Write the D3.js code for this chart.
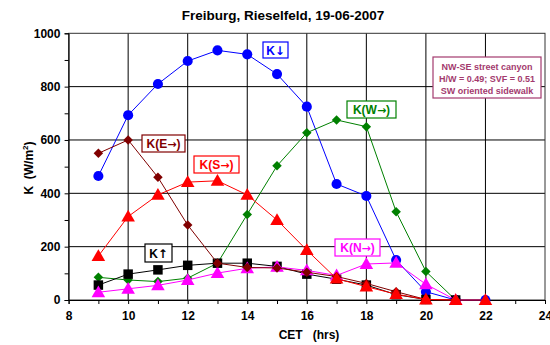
<!DOCTYPE html>
<html><head><meta charset="utf-8">
<script src="https://cdn.jsdelivr.net/npm/d3@7"></script>
<style>body{margin:0;background:#fff}svg{display:block}text{font-family:Arial,"Liberation Sans",sans-serif}</style>
</head><body>
<svg id="c" width="550" height="345"></svg>
<script>
const hours = [9,10,11,12,13,14,15,16,17,18,19,20,21,22];
const kDown = [465,693,810,896,936,921,847,725,435,390,150,31,0,0];
const kW    = [85,75,69,82,138,321,503,627,675,650,331,107,0,null];
const kUp   = [56,97,113,130,138,138,126,97,78,56,20,2,0,null];
const kN    = [29,42,55,75,101,119,124,111,92,135,139,59,0,null];
const kE    = [550,600,460,281,138,122,120,104,88,62,31,2,0,null];
const kS    = [165,313,394,442,447,394,300,187,80,50,22,2,0,0];
const xTicks = [8,10,12,14,16,18,20,22,24];
const yTicks = [0,200,400,600,800,1000];
const title = "Freiburg, Rieselfeld, 19-06-2007";
const note = ["NW-SE street canyon","H/W = 0.49; SVF = 0.51","SW oriented sidewalk"];

const svg = d3.select("#c");
const L=68.6,R=545,T=33.3,B=300;
const x = d3.scaleLinear().domain([8,24]).range([L,R]);
const y = d3.scaleLinear().domain([0,1000]).range([B,T]);

// grid
const g = svg.append("g");
g.selectAll(".vx").data(xTicks.slice(1,-1)).enter().append("line")
 .attr("x1",d=>x(d)).attr("x2",d=>x(d)).attr("y1",T).attr("y2",B).attr("stroke","#000").attr("stroke-width",1);
g.selectAll(".hy").data(yTicks.slice(1,-1)).enter().append("line")
 .attr("x1",L).attr("x2",R).attr("y1",d=>y(d)).attr("y2",d=>y(d)).attr("stroke","#000").attr("stroke-width",1);
g.append("rect").attr("x",L).attr("y",T).attr("width",R-L).attr("height",B-T).attr("fill","none").attr("stroke","#333").attr("stroke-width",1);

// axes
const xAxis = d3.axisBottom(x).tickValues(d3.range(8,25,1)).tickSize(4).tickFormat(d=>xTicks.includes(d)?d:"");
const ax = svg.append("g").attr("transform",`translate(0,${B})`).call(xAxis);
const yAxis = d3.axisLeft(y).tickValues(d3.range(0,1001,100)).tickSize(4).tickFormat(d=>yTicks.includes(d)?d:"");
const ay = svg.append("g").attr("transform",`translate(${L},0)`).call(yAxis);
[ax,ay].forEach(a=>{a.select(".domain").attr("stroke","#000");a.selectAll(".tick line").attr("stroke","#000");
 a.selectAll("text").attr("font-size",12).attr("font-weight","bold").attr("fill","#000").attr("font-family","Arial,'Liberation Sans',sans-serif");});
ax.selectAll("text").attr("dy","1.05em");
ay.selectAll("text").attr("dx","-0.1em");

svg.append("text").attr("x",283).attr("y",20).attr("text-anchor","middle").attr("font-size",13.5).attr("font-weight","bold").text(title);
svg.append("text").attr("x",309).attr("y",339).attr("text-anchor","middle").attr("font-size",12).attr("font-weight","bold").attr("xml:space","preserve").text("CET   (hrs)");
const yt = svg.append("text").attr("transform","translate(33,168) rotate(-90)").attr("text-anchor","middle").attr("font-size",12).attr("font-weight","bold").attr("xml:space","preserve");
yt.append("tspan").text("K  (W/m");
yt.append("tspan").attr("font-size",8).attr("dy",-5).text("2");
yt.append("tspan").attr("dy",5).text(")");

const series = [
 {v:kDown,c:"#0000ff",m:"circle"},
 {v:kW,c:"#008000",m:"diamond"},
 {v:kUp,c:"#000000",m:"square"},
 {v:kN,c:"#ff00ff",m:"triangle"},
 {v:kE,c:"#800000",m:"diamond"},
 {v:kS,c:"#ff0000",m:"triangle"}
];
const sym = {circle:d3.symbolCircle,diamond:d3.symbolSquare,square:d3.symbolSquare,triangle:d3.symbolTriangle};
const size = {circle:80,diamond:45,square:90,triangle:80};
series.forEach(s=>{
 const pts = hours.map((h,i)=>({h,v:s.v[i]})).filter(p=>p.v!==null);
 svg.append("path").datum(pts).attr("fill","none").attr("stroke",s.c).attr("stroke-width",1)
  .attr("d",d3.line().x(p=>x(p.h)).y(p=>y(p.v)));
 svg.selectAll(null).data(pts).enter().append("path")
  .attr("transform",p=>`translate(${x(p.h)},${y(p.v)+(s.m==="triangle"?1:0)})${s.m==="diamond"?" rotate(45)":""}`)
  .attr("d",d3.symbol().type(sym[s.m]).size(size[s.m])).attr("fill",s.c);
});

// labels
const labels = [
 {t:["K","↓",""],c:"#0000ff",x0:263,y0:42,x1:288,y1:58},
 {t:["K(E","→",")"],c:"#800000",x0:142,y0:135,x1:185,y1:152},
 {t:["K(S","→",")"],c:"#ff0000",x0:194,y0:156,x1:239,y1:173},
 {t:["K(W","→",")"],c:"#008000",x0:347,y0:101,x1:396,y1:118},
 {t:["K","↑",""],c:"#000000",x0:145,y0:244,x1:172,y1:262},
 {t:["K(N","→",")"],c:"#ff00ff",x0:335,y0:239,x1:380,y1:256}
];
labels.forEach(l=>{
 svg.append("rect").attr("x",l.x0).attr("y",l.y0).attr("width",l.x1-l.x0).attr("height",l.y1-l.y0).attr("fill","#fff").attr("stroke",l.c).attr("stroke-width",1.2);
 const t = svg.append("text").attr("x",(l.x0+l.x1)/2).attr("y",(l.y0+l.y1)/2+4.5).attr("text-anchor","middle").attr("font-size",12).attr("font-weight","bold").attr("fill",l.c);
 t.append("tspan").text(l.t[0]);
 t.append("tspan").attr("font-family","'DejaVu Sans',sans-serif").attr("font-size",l.t[1]==="→"?11:12).text(l.t[1]);
 if(l.t[2]) t.append("tspan").text(l.t[2]);
});

// note
const nc="#a33a6e";
svg.append("rect").attr("x",433).attr("y",57).attr("width",108).attr("height",41).attr("fill","#fff").attr("stroke",nc).attr("stroke-width",1.2);
note.forEach((t,i)=>svg.append("text").attr("x",487).attr("y",70+i*12).attr("text-anchor","middle").attr("font-size",9).attr("font-weight","bold").attr("fill",nc).text(t));
</script>
</body></html>
